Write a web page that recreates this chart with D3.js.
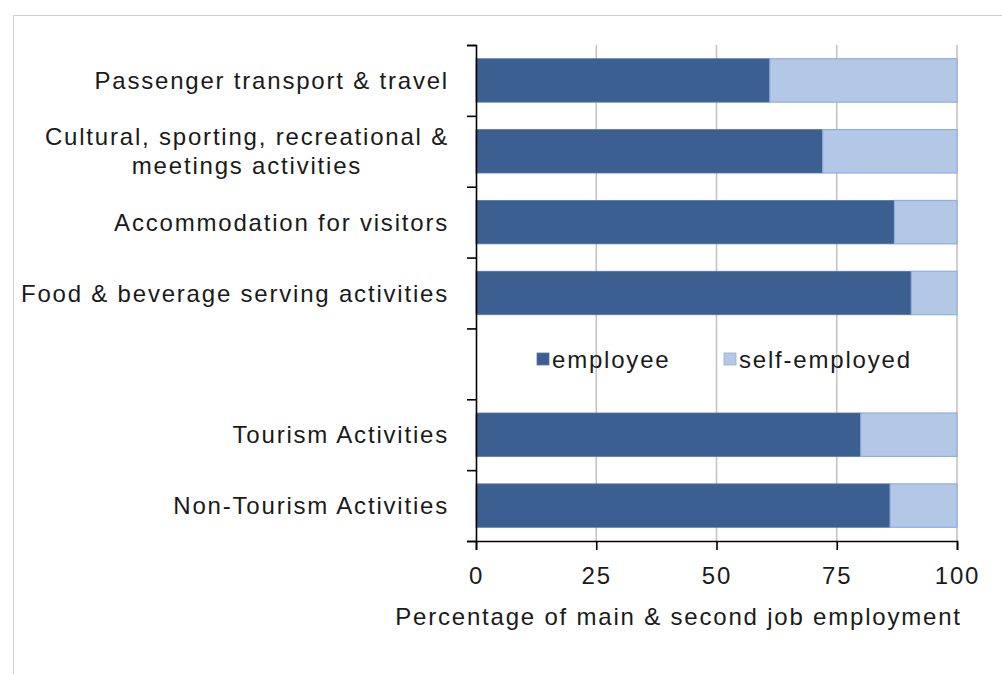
<!DOCTYPE html>
<html>
<head>
<meta charset="utf-8">
<script src="https://cdn.jsdelivr.net/npm/d3@7/dist/d3.min.js"></script>
<style>
  html, body { margin: 0; padding: 0; background: #fff; }
  svg { display: block; }
  text { font-family: "Liberation Sans", Arial, sans-serif; fill: #1a1a1a; }
</style>
</head>
<body>
<script>
// Employment status by tourism industry (% of main & second jobs)
const categories = [
  "Passenger transport & travel",
  "Cultural, sporting, recreational &\nmeetings activities",
  "Accommodation for visitors",
  "Food & beverage serving activities",
  "",
  "Tourism Activities",
  "Non-Tourism Activities"
];
const employee     = [61.1, 72.1, 87.0, 90.5, null, 80.0, 86.1];
const selfEmployed = [38.9, 27.9, 13.0,  9.5, null, 20.0, 13.9];
const seriesNames  = ["employee", "self-employed"];
const xTicks       = [0, 25, 50, 75, 100];
const xTitle       = "Percentage of main & second job employment";

const W = 1002, H = 674;
const FONT = 24;
const LS = "1.8px";
const colors = { employee: "#3c5f91", self: "#b3c8e6", selfStroke: "#91aedb", empStroke: "#5377ab" };

const svg = d3.select("body").append("svg").attr("width", W).attr("height", H);

// chart area frame
svg.append("rect")
  .attr("x", 13.5).attr("y", 15.5).attr("width", W + 20).attr("height", H + 20)
  .attr("fill", "none").attr("stroke", "#cfcfcf").attr("stroke-width", 1);

const plot = { left: 476, right: 957, top: 45, bottom: 541 };

const x = d3.scaleLinear().domain([0, 100]).range([plot.left, plot.right]);
const y = d3.scaleBand().domain(d3.range(categories.length))
  .range([plot.top, plot.bottom]).paddingInner(0.387).paddingOuter(0.1935);
const yEdge = d3.scaleLinear().domain([0, categories.length]).range([plot.top, plot.bottom]);

// vertical gridlines
svg.append("g").selectAll("line").data(xTicks.filter(d => d > 0)).join("line")
  .attr("x1", d => x(d)).attr("x2", d => x(d))
  .attr("y1", plot.top).attr("y2", plot.bottom)
  .attr("stroke", "#c4c4c4").attr("stroke-width", 1.6);

// stacked bars
const rows = categories.map((c, i) => ({ i, emp: employee[i], self: selfEmployed[i] }))
  .filter(d => d.emp != null);

svg.append("g").selectAll("rect").data(rows).join("rect")
  .attr("x", x(0))
  .attr("y", d => y(d.i))
  .attr("width", d => x(d.emp) - x(0))
  .attr("height", y.bandwidth())
  .attr("fill", colors.employee)
  .attr("stroke", colors.empStroke).attr("stroke-width", 0.8);

svg.append("g").selectAll("rect").data(rows).join("rect")
  .attr("x", d => x(d.emp))
  .attr("y", d => y(d.i))
  .attr("width", d => x(d.emp + d.self) - x(d.emp))
  .attr("height", y.bandwidth())
  .attr("fill", colors.self)
  .attr("stroke", colors.selfStroke).attr("stroke-width", 1.2);

// y axis with ticks at category boundaries
const yAxisG = svg.append("g").attr("transform", `translate(${plot.left},0)`)
  .call(d3.axisLeft(yEdge).ticks(categories.length).tickSize(9).tickFormat(""));
yAxisG.select(".domain").attr("stroke", "#000").attr("stroke-width", 1.6);
yAxisG.selectAll(".tick line").attr("stroke", "#000").attr("stroke-width", 1.6);

// x axis
const xAxisG = svg.append("g").attr("transform", `translate(0,${plot.bottom})`)
  .call(d3.axisBottom(x).tickValues(xTicks).tickSize(9).tickPadding(17));
xAxisG.select(".domain").attr("stroke", "#000").attr("stroke-width", 1.6);
xAxisG.selectAll(".tick line").attr("stroke", "#000").attr("stroke-width", 1.6);
xAxisG.selectAll(".tick text")
  .attr("font-size", FONT).style("letter-spacing", LS)
  .attr("font-family", "Liberation Sans, Arial, sans-serif").attr("fill", "#1a1a1a");

// x axis title
svg.append("text")
  .attr("x", (391 + 966) / 2).attr("y", 625)
  .attr("text-anchor", "middle")
  .attr("font-size", FONT).style("letter-spacing", LS)
  .text(xTitle);

// category labels, right-aligned block with centered lines
const labelRight = 449;
const lineH = 29;
const labelG = svg.append("g");
categories.forEach((c, i) => {
  if (!c) return;
  const lines = c.split("\n");
  const t = labelG.append("text")
    .attr("font-size", FONT).style("letter-spacing", LS)
    .attr("text-anchor", "middle");
  const spans = lines.map((ln, k) => t.append("tspan").text(ln));
  const widths = spans.map(s => s.node().getComputedTextLength());
  const maxW = d3.max(widths);
  const cx = labelRight - maxW / 2;
  const cy = y(i) + y.bandwidth() / 2;
  const firstBase = cy - (lines.length - 1) * lineH / 2 + FONT * 0.36;
  spans.forEach((s, k) => s.attr("x", cx).attr("y", firstBase + k * lineH));
});

// legend
const legendItems = [
  { name: seriesNames[0], fill: colors.employee, stroke: colors.empStroke, x: 537 },
  { name: seriesNames[1], fill: colors.self, stroke: colors.selfStroke, x: 724 }
];
const legendY = 359;
const lg = svg.append("g");
legendItems.forEach(d => {
  lg.append("rect").attr("x", d.x).attr("y", legendY - 6).attr("width", 12).attr("height", 12)
    .attr("fill", d.fill).attr("stroke", d.stroke).attr("stroke-width", 0.8);
  lg.append("text").attr("x", d.x + 15).attr("y", legendY + FONT * 0.36)
    .attr("font-size", FONT).style("letter-spacing", LS)
    .text(d.name);
});
</script>
</body>
</html>
